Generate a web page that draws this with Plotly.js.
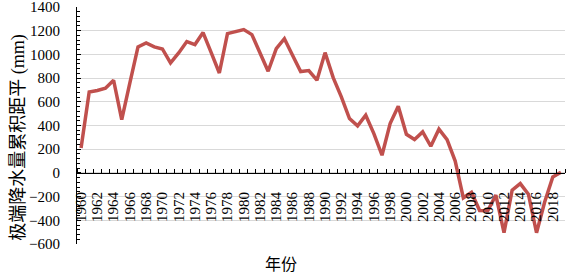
<!DOCTYPE html>
<html>
<head>
<meta charset="utf-8">
<script src="https://cdn.plot.ly/plotly-3.0.1.min.js"></script>
<style>html,body{margin:0;padding:0;background:#fff;}#chart{width:566px;height:272px;}</style>
</head>
<body>
<div id="chart"></div>
<script>
const years = [];
for (let y = 1960; y <= 2019; y++) years.push(y);

const anomaly = [
  210, 683, 695, 714, 782, 450, 760, 1063, 1097, 1063,
  1046, 928, 1012, 1108, 1083, 1184, 1015, 843, 1175, 1189,
  1209, 1167, 1007, 858, 1049, 1133, 993, 855, 863, 782,
  1015, 804, 641, 459, 397, 487, 332, 149, 417, 563,
  326, 282, 346, 225, 369, 280, 100, -210, -165, -318,
  -320, -188, -505, -146, -90, -180, -505, -245, -34, 5
];

const yTitle = '极端降水量累积距平 (mm)';
const xTitle = '年份';

const serif = 'Liberation Serif, "Noto Sans CJK SC", serif';

const trace = {
  x: years,
  y: anomaly,
  type: 'scatter',
  mode: 'lines',
  line: {color: '#C0504D', width: 3.5},
  hoverinfo: 'x+y'
};

const layout = {
  width: 566,
  height: 272,
  margin: {l: 77, r: 1, t: 7, b: 28},
  paper_bgcolor: '#ffffff',
  plot_bgcolor: '#ffffff',
  showlegend: false,
  font: {family: serif, color: '#000'},
  xaxis: {
    type: 'linear',
    range: [1959.5, 2019.5],
    anchor: 'free',
    position: 0.3,
    showline: true,
    linecolor: '#000',
    linewidth: 1,
    showgrid: false,
    zeroline: false,
    tick0: 1960,
    dtick: 2,
    ticks: '',
    tickangle: -90,
    ticklabelstandoff: 12,
    tickfont: {family: serif, size: 15, color: '#000'},
    minor: {tick0: 1959.5, dtick: 1, ticks: 'inside', ticklen: 4, tickcolor: '#000', showgrid: false}
  },
  yaxis: {
    range: [-600, 1400],
    tick0: 0,
    dtick: 200,
    showline: true,
    linecolor: '#000',
    linewidth: 1,
    showgrid: true,
    gridcolor: '#d9d9d9',
    gridwidth: 1,
    zeroline: false,
    ticks: 'inside',
    ticklen: 4,
    tickcolor: '#000',
    ticklabelstandoff: 13,
    ticklabeloverflow: 'allow',
    tickfont: {family: serif, size: 15, color: '#000'},
    minor: {dtick: 40, ticks: 'inside', ticklen: 3, tickcolor: '#000', showgrid: false}
  },
  annotations: [
    {text: yTitle, xref: 'paper', yref: 'paper', x: -0.12, y: 0.45,
     xanchor: 'center', yanchor: 'middle', textangle: -90, showarrow: false,
     font: {family: serif, size: 18, color: '#000'}},
    {text: xTitle, xref: 'paper', yref: 'paper', x: 0.418, y: -0.085,
     xanchor: 'center', yanchor: 'middle', showarrow: false,
     font: {family: serif, size: 16, color: '#000'}}
  ]
};

Plotly.newPlot('chart', [trace], layout, {displayModeBar: false, staticPlot: true});
</script>
</body>
</html>
